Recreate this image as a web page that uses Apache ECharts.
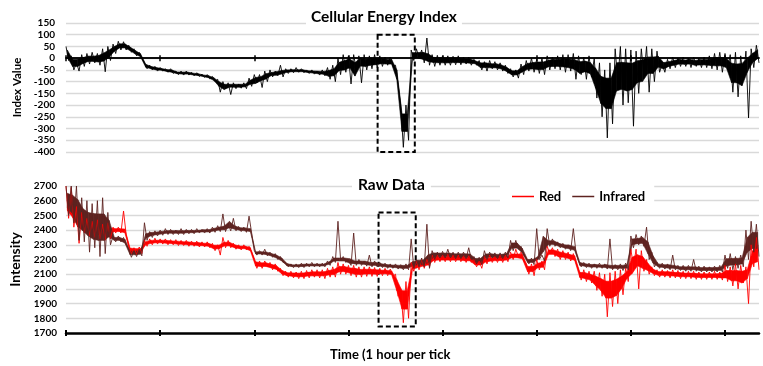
<!DOCTYPE html>
<html><head><meta charset="utf-8">
<script src="https://cdn.jsdelivr.net/npm/echarts@6/dist/echarts.min.js"></script>
<style>html,body{margin:0;padding:0;background:#fff}#c{width:763px;height:366px}</style>
</head><body><div id="c"></div>
<script>
// One envelope sample (high, low) every 1/18 hour; time axis in hours.
const STEP = 1 / 18;
const hourTicks = [0, 1, 2, 3, 4, 5, 6, 7];

// Cellular Energy Index envelope (upper / lower) per sample
const topHi = [50,10,-20,15,20,25,20,40,50,60,
72,70,55,40,25,-20,-30,-35,-40,-45,
-45,-55,-55,-55,-60,-62,-68,-70,-78,-90,
-100,-105,-105,-110,-105,-85,-70,-70,-55,-50,
-55,-30,-45,-45,-40,-45,-50,-50,-55,-50,
-40,-30,0,15,10,15,10,15,10,15,
10,5,5,-30,-200,-200,35,40,35,86,
15,12,10,10,8,10,5,5,-5,-10,
-15,-10,-15,-20,-30,-45,-50,-25,-10,0,
-5,0,10,5,10,15,15,20,10,5,
10,0,-20,-50,-20,40,50,40,35,30,
40,50,40,30,-20,-5,5,0,5,0,
5,0,5,10,20,25,20,15,25,10,
30,40,55];
const topLo = [-10,-50,-55,-35,-25,-20,-30,-58,-10,20,
35,35,25,10,0,-45,-50,-55,-55,-60,
-65,-70,-72,-72,-75,-78,-82,-88,-100,-145,
-130,-155,-130,-128,-130,-120,-105,-125,-100,-80,
-75,-80,-65,-62,-60,-62,-65,-68,-72,-75,
-90,-100,-70,-60,-110,-50,-105,-50,-45,-40,
-35,-30,-35,-110,-380,-350,-10,0,-20,-30,
-35,-30,-30,-30,-28,-28,-25,-30,-30,-50,
-55,-45,-50,-55,-65,-80,-85,-70,-55,-60,
-65,-70,-50,-45,-50,-60,-55,-90,-70,-90,
-80,-170,-250,-340,-280,-100,-200,-190,-290,-150,
-80,-145,-100,-60,-60,-45,-40,-35,-35,-40,
-35,-40,-40,-45,-50,-60,-50,-145,-165,-90,
-255,-40,-20];

// Raw data: Red channel envelope
const redHi = [2700,2690,2560,2520,2480,2460,2470,2440,2450,2420,
2420,2530,2290,2280,2285,2330,2340,2345,2340,2340,
2335,2335,2330,2330,2325,2325,2320,2320,2310,2300,
2350,2330,2310,2300,2300,2290,2200,2190,2190,2180,
2170,2140,2120,2120,2115,2120,2125,2130,2130,2130,
2140,2150,2180,2170,2160,2160,2150,2150,2150,2145,
2140,2140,2135,2100,2000,2050,2180,2190,2200,2200,
2230,2230,2230,2235,2230,2230,2225,2225,2200,2190,
2220,2230,2220,2230,2230,2250,2270,2250,2170,2170,
2200,2190,2290,2280,2270,2260,2250,2240,2130,2130,
2120,2120,2110,2100,2110,2120,2130,2140,2270,2270,
2260,2200,2150,2130,2130,2125,2130,2125,2120,2120,
2120,2115,2115,2115,2120,2115,2160,2150,2170,2160,
2150,2300,2350];
const redLo = [2480,2420,2310,2380,2360,2350,2340,2330,2340,2380,
2380,2370,2240,2235,2240,2290,2300,2305,2305,2300,
2300,2295,2295,2290,2290,2285,2285,2280,2260,2230,
2280,2280,2270,2265,2265,2250,2140,2140,2150,2130,
2120,2090,2080,2075,2070,2070,2075,2080,2075,2070,
2080,2080,2100,2100,2090,2080,2080,2085,2085,2085,
2090,2090,2085,1950,1770,1800,2120,2130,2140,2150,
2180,2185,2185,2185,2185,2185,2180,2180,2150,2140,
2170,2180,2180,2180,2185,2200,2220,2190,2100,2090,
2130,2130,2240,2220,2200,2200,2190,2180,2060,2050,
2040,1990,1950,1810,1880,1900,1960,2050,2150,2000,
2120,2100,2090,2080,2080,2075,2075,2070,2070,2070,
2065,2065,2065,2065,2065,2060,2050,2020,2000,2040,
1900,2150,2130];

// Raw data: Infrared channel envelope
const irHi = [2700,2700,2700,2620,2600,2580,2600,2620,2520,2360,
2360,2350,2270,2260,2270,2450,2390,2395,2400,2410,
2405,2400,2410,2405,2405,2410,2405,2410,2420,2430,
2510,2440,2480,2425,2420,2495,2260,2260,2270,2250,
2240,2220,2180,2170,2170,2175,2175,2180,2175,2175,
2190,2220,2460,2220,2200,2380,2200,2190,2230,2190,
2180,2175,2170,2170,2165,2170,2340,2200,2210,2440,
2260,2250,2255,2270,2250,2250,2250,2280,2220,2215,
2260,2250,2245,2245,2250,2330,2330,2290,2210,2210,
2410,2230,2410,2340,2320,2310,2300,2410,2190,2180,
2175,2170,2175,2170,2340,2165,2170,2175,2360,2370,
2360,2420,2250,2180,2175,2170,2230,2160,2160,2160,
2200,2155,2155,2150,2155,2160,2230,2240,2220,2230,
2400,2460,2440];
const irLo = [2500,2450,2330,2320,2250,2280,2220,2240,2300,2320,
2320,2300,2215,2220,2225,2330,2350,2360,2365,2370,
2370,2370,2370,2375,2375,2380,2380,2380,2385,2390,
2390,2395,2395,2390,2385,2380,2230,2230,2225,2215,
2200,2180,2150,2145,2145,2145,2150,2150,2150,2150,
2160,2180,2200,2180,2160,2160,2160,2155,2150,2150,
2145,2140,2140,2135,2130,2130,2140,2150,2150,2140,
2200,2210,2210,2210,2205,2205,2205,2200,2170,2165,
2200,2210,2205,2205,2210,2260,2270,2230,2170,2165,
2200,2190,2290,2290,2280,2270,2260,2250,2150,2145,
2140,2140,2140,2135,2130,2130,2125,2130,2280,2300,
2290,2200,2150,2140,2135,2130,2130,2125,2120,2120,
2120,2115,2115,2115,2115,2115,2140,2130,2140,2150,
2200,2250,2220];

// Dashed highlight boxes [time, value] corners
const boxTop = [[3.31, 100], [3.705, -400]];
const boxBottom = [[3.32, 2520], [3.715, 1745]];

const X_MAX = topHi.length * STEP - STEP / 2;
const CORE = 0.5; // share of the envelope drawn as the dense core of the noise

// zigzag trace: high at sample start, low half a step later
function zig(hi, lo) {
  const out = [];
  for (let k = 0; k < hi.length; k++) {
    out.push([k * STEP, hi[k]]);
    out.push([k * STEP + STEP / 2, lo[k]]);
  }
  return out;
}
function med3(a, k) {
  const s = [a[Math.max(0, k - 1)], a[k], a[Math.min(a.length - 1, k + 1)]].sort((x, y) => x - y);
  return s[1];
}
function core(hi, lo, k) {
  const h = med3(hi, k), l = med3(lo, k), m = (h + l) / 2, r = (h - l) * CORE / 2;
  return [m + r, m - r];
}
function bandData(hi, lo) {
  const out = [];
  for (let k = 0; k < hi.length - 1; k++) {
    const a = core(hi, lo, k), b = core(hi, lo, k + 1);
    out.push([k * STEP, a[0], a[1], (k + 1) * STEP, b[0], b[1]]);
  }
  return out;
}
function bandRender(color) {
  const h = STEP / 2;
  return function (params, api) {
    const a = api.coord([api.value(0) + h / 2, api.value(1)]);
    const b = api.coord([api.value(3) + h / 2, api.value(4)]);
    const c = api.coord([api.value(3) + h / 2, api.value(5)]);
    const d = api.coord([api.value(0) + h / 2, api.value(2)]);
    return { type: 'polygon', shape: { points: [a, b, c, d] },
      style: { fill: color, stroke: color, lineWidth: 0.6 } };
  };
}

const FONT = 'Lato';
const boldBlack = { fontFamily: FONT, fontWeight: 'bold', color: '#000' };
const gridLine = { lineStyle: { color: '#d9d9d9', width: 1.3 } };
const boxStyle = { color: 'rgba(0,0,0,0)', borderColor: '#000', borderWidth: 2, borderType: [5, 3] };
const RED = '#ff0000', IR = '#5e2320', BLACK = '#000000';

function xAx(grid, pos, opts) {
  return Object.assign({
    gridIndex: grid, type: 'value', min: 0, max: X_MAX, interval: 1, position: pos,
    axisLabel: { show: false }, splitLine: { show: false }
  }, opts);
}
function band(id, xi, yi, hi, lo, color) {
  return { name: id, type: 'custom', xAxisIndex: xi, yAxisIndex: yi, silent: true, clip: true,
    encode: { x: [0, 3], y: [1, 2, 4, 5] }, data: bandData(hi, lo), renderItem: bandRender(color) };
}

const chart = echarts.init(document.getElementById('c'), null, { renderer: 'canvas' });
chart.setOption({
  animation: false,
  backgroundColor: '#fff',
  textStyle: { fontFamily: FONT },
  title: [
    { text: 'Cellular Energy Index', left: 306, top: 5, padding: [3, 5], backgroundColor: '#fff',
      textStyle: Object.assign({ fontSize: 15.5, lineHeight: 18 }, boldBlack) },
    { text: 'Raw Data', left: 352, top: 173, padding: [3, 6], backgroundColor: '#fff',
      textStyle: Object.assign({ fontSize: 15.5, lineHeight: 18 }, boldBlack) },
    { text: 'Time (1 hour per tick', left: 330, top: 347, padding: 0,
      textStyle: Object.assign({ fontSize: 13, lineHeight: 15 }, boldBlack) }
  ],
  legend: {
    data: ['Red', 'Infrared'], left: 500, top: 182, padding: [8, 9, 8, 12],
    backgroundColor: '#fff', icon: 'rect', itemWidth: 22, itemHeight: 1.5, itemGap: 11,
    textStyle: Object.assign({ fontSize: 13 }, boldBlack)
  },
  grid: [
    { left: 66, right: 4, top: 23, height: 129 },
    { left: 66, right: 4, top: 186, height: 147 }
  ],
  xAxis: [
    xAx(0, 'bottom', { axisLine: { onZero: true, lineStyle: { color: '#000', width: 1.5 } },
      axisTick: { show: true, inside: false, length: 3, customValues: hourTicks, lineStyle: { color: '#000', width: 1.5 } } }),
    xAx(0, 'top', { axisLine: { onZero: true, lineStyle: { color: '#000', width: 1.5 } },
      axisTick: { show: true, inside: false, length: 3, customValues: hourTicks, lineStyle: { color: '#000', width: 1.5 } } }),
    xAx(1, 'bottom', { axisLine: { lineStyle: { color: '#000', width: 2.5 } },
      axisTick: { show: true, inside: false, length: 3, customValues: hourTicks, lineStyle: { color: '#000', width: 2 } } }),
    xAx(1, 'bottom', { axisLine: { show: false },
      axisTick: { show: true, inside: true, length: 3, customValues: hourTicks, lineStyle: { color: '#000', width: 2 } } })
  ],
  yAxis: [
    { gridIndex: 0, type: 'value', min: -400, max: 150, interval: 50,
      name: 'Index Value', nameLocation: 'middle', nameGap: 42,
      nameTextStyle: Object.assign({ fontSize: 11.5 }, boldBlack),
      axisLine: { show: false }, axisTick: { show: false },
      axisLabel: Object.assign({ fontSize: 10, margin: 11, formatter: v => String(v) }, boldBlack), splitLine: gridLine },
    { gridIndex: 0, type: 'value', min: -400, max: 150, interval: 50, show: false },
    { gridIndex: 1, type: 'value', min: 1700, max: 2700, interval: 100,
      name: 'Intensity', nameLocation: 'middle', nameGap: 34,
      nameTextStyle: Object.assign({ fontSize: 14 }, boldBlack),
      axisLine: { show: false }, axisTick: { show: false },
      axisLabel: Object.assign({ fontSize: 10, margin: 9, formatter: v => String(v) }, boldBlack), splitLine: gridLine }
  ],
  series: [
    band('idxBand', 0, 0, topHi, topLo, BLACK),
    { name: 'Index', type: 'line', xAxisIndex: 0, yAxisIndex: 0, data: zig(topHi, topLo),
      symbol: 'none', color: BLACK, lineStyle: { color: BLACK, width: 0.9 },
      markArea: { silent: true, itemStyle: boxStyle,
        data: [[{ coord: boxTop[0] }, { coord: boxTop[1] }]] } },
    band('redBand', 2, 2, redHi, redLo, RED),
    { name: 'Red', type: 'line', xAxisIndex: 2, yAxisIndex: 2, data: zig(redHi, redLo),
      symbol: 'none', color: RED, lineStyle: { color: RED, width: 0.9 },
      markArea: { silent: true, itemStyle: boxStyle,
        data: [[{ coord: boxBottom[0] }, { coord: boxBottom[1] }]] } },
    band('irBand', 2, 2, irHi, irLo, IR),
    { name: 'Infrared', type: 'line', xAxisIndex: 2, yAxisIndex: 2, data: zig(irHi, irLo),
      symbol: 'none', color: IR, lineStyle: { color: IR, width: 0.9 } }
  ]
});
</script>
</body></html>
